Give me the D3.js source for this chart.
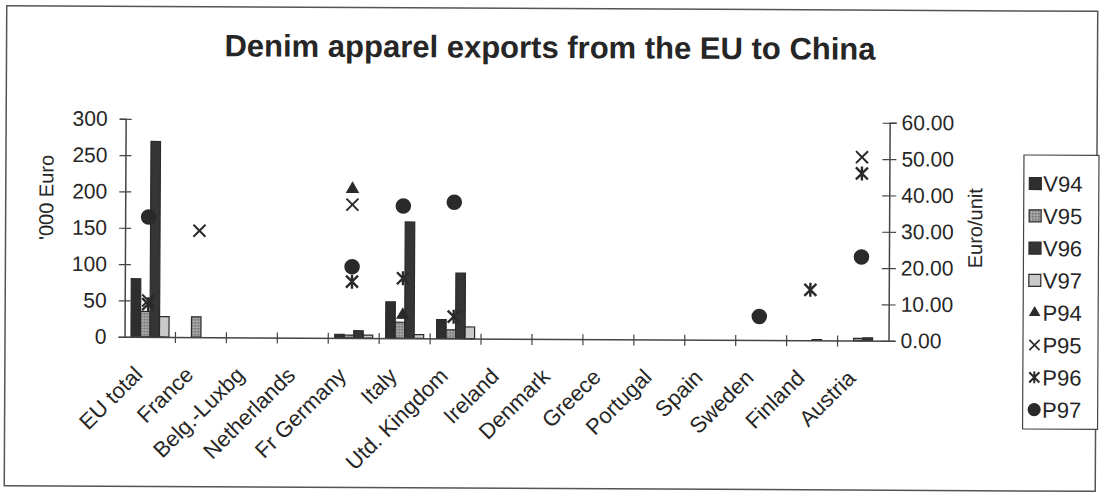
<!DOCTYPE html>
<html>
<head>
<meta charset="utf-8">
<script src="https://cdn.jsdelivr.net/npm/d3@7"></script>
<style>
  body { margin: 0; background: #fff; }
  svg { display: block; }
  text { font-family: "Liberation Sans", Arial, sans-serif; fill: #262626; }
</style>
</head>
<body>
<svg id="chart" width="1101" height="493"></svg>
<script>
// Countries along the category axis
const categories = ["EU total", "France", "Belg.-Luxbg", "Netherlands", "Fr Germany", "Italy",
  "Utd. Kingdom", "Ireland", "Denmark", "Greece", "Portugal", "Spain", "Sweden", "Finland", "Austria"];

// Export values, '000 Euro (left axis, bars)
const V94 = [80, 0, 0, 0, 5, 50, 26, 0, 0, 0, 0, 0, 0, 0, 0];
const V95 = [35, 28, 0, 0, 4, 22, 12, 0, 0, 0, 0, 0, 0, 0, 3];
const V96 = [269, 0, 0, 0, 10, 160, 90, 0, 0, 0, 0, 0, 0, 1, 4];
const V97 = [28, 0, 0, 0, 4, 5, 16, 0, 0, 0, 0, 0, 0, 0, 0];

// Unit prices, Euro/unit (right axis, markers); null = no value
const P94 = [null, null, null, null, 41, 6.4, null, null, null, null, null, null, null, null, null];
const P95 = [10, 29.3, null, null, 36.7, null, null, null, null, null, null, null, null, null, 50.5];
const P96 = [9, null, null, null, 15.5, 16.5, 6, null, null, null, null, null, null, 13.9, 46];
const P97 = [33, null, null, null, 19.6, 36.4, 37.5, null, null, null, null, null, 6.5, null, 23];

const leftTicks = [0, 50, 100, 150, 200, 250, 300];
const rightTicks = [0, 10, 20, 30, 40, 50, 60];
const leftTickLabels = leftTicks.map(String);
const rightTickLabels = rightTicks.map(d => d.toFixed(2));

const barSeries = [
  { name: "V94", values: V94, fill: "#2e2e2e" },
  { name: "V95", values: V95, fill: "url(#hatchV95)" },
  { name: "V96", values: V96, fill: "#353535" },
  { name: "V97", values: V97, fill: "#c9c9c9" }
];
const markerSeries = [
  { name: "P94", values: P94, shape: "triangle" },
  { name: "P95", values: P95, shape: "cross" },
  { name: "P96", values: P96, shape: "star" },
  { name: "P97", values: P97, shape: "circle" }
];

const ink = "#2a2a2a";
const svg = d3.select("#chart");

// fine textured grey used for the V95 bars
const defs = svg.append("defs");
const pat = defs.append("pattern").attr("id", "hatchV95")
  .attr("patternUnits", "userSpaceOnUse").attr("width", 3).attr("height", 3);
pat.append("rect").attr("width", 3).attr("height", 3).attr("fill", "#9a9a9a");
pat.append("rect").attr("width", 1.5).attr("height", 1.5).attr("fill", "#6f6f6f");
pat.append("rect").attr("x", 1.5).attr("y", 1.5).attr("width", 1.5).attr("height", 1.5).attr("fill", "#b4b4b4");

// the whole sheet sits at a slight tilt
const root = svg.append("g").attr("transform", "rotate(0.3,550,246)");

root.append("rect")
  .attr("x", 5.5).attr("y", 8.5).attr("width", 1091).attr("height", 480)
  .attr("fill", "none").attr("stroke", "#555").attr("stroke-width", 1.5);

root.append("text")
  .attr("x", 549).attr("y", 58)
  .attr("text-anchor", "middle")
  .attr("font-size", 31).attr("font-weight", "bold")
  .text("Denim apparel exports from the EU to China");

const plot = { left: 125, right: 889, top: 121, bottom: 339 };

const x = d3.scaleBand().domain(categories).range([plot.left, plot.right]).padding(0);
const xs = d3.scaleBand().domain(barSeries.map(s => s.name))
  .range([0, x.bandwidth()]).paddingInner(0).paddingOuter(0.68);
const yL = d3.scaleLinear().domain([0, 300]).range([plot.bottom, plot.top]);
const yR = d3.scaleLinear().domain([0, 60]).range([plot.bottom, plot.top]);

// bars
const barG = root.append("g");
barSeries.forEach(s => {
  barG.selectAll(null)
    .data(categories.map((c, i) => ({ c, v: s.values[i] })).filter(d => d.v > 0))
    .join("rect")
    .attr("x", d => x(d.c) + xs(s.name))
    .attr("y", d => yL(d.v))
    .attr("width", xs.bandwidth())
    .attr("height", d => yL(0) - yL(d.v))
    .attr("fill", s.fill)
    .attr("stroke", ink).attr("stroke-width", 1.2);
});

// axes
const axisStyle = g => {
  g.select(".domain").attr("stroke", "#444").attr("stroke-width", 1.5);
  g.selectAll(".tick line").attr("stroke", "#444").attr("stroke-width", 1.2);
  g.selectAll("text").attr("font-size", 21).attr("fill", "#262626")
    .attr("font-family", "'Liberation Sans', Arial, sans-serif");
};

const gL = root.append("g").attr("transform", `translate(${plot.left},0)`)
  .call(d3.axisLeft(yL).tickValues(leftTicks).tickFormat((d, i) => leftTickLabels[i])
    .tickSizeOuter(0).tickSize(6).tickPadding(12))
  .call(axisStyle);
gL.selectAll(".tick line").attr("x1", 6).attr("x2", -6);

const gR = root.append("g").attr("transform", `translate(${plot.right},0)`)
  .call(d3.axisRight(yR).tickValues(rightTicks).tickFormat((d, i) => rightTickLabels[i])
    .tickSizeOuter(0).tickSize(7).tickPadding(5))
  .call(axisStyle);
gR.selectAll(".tick line").attr("x1", -7).attr("x2", 7);

const gX = root.append("g").attr("transform", `translate(0,${plot.bottom})`)
  .call(d3.axisBottom(x).tickSize(0).tickSizeOuter(0).tickPadding(0))
  .call(axisStyle);
gX.selectAll(".tick text")
  .attr("text-anchor", "end")
  .attr("dy", 0)
  .attr("font-size", 22)
  .attr("transform", "translate(-6,39) rotate(-45)");

// category separators crossing the axis
root.append("g").selectAll("line")
  .data(categories.slice(1))
  .join("line")
  .attr("x1", d => x(d)).attr("x2", d => x(d))
  .attr("y1", plot.bottom - 5).attr("y2", plot.bottom + 6)
  .attr("stroke", "#444").attr("stroke-width", 1.2);

// axis titles
root.append("text")
  .attr("transform", "translate(53,200) rotate(-90)")
  .attr("text-anchor", "middle").attr("font-size", 20)
  .text("'000 Euro");
root.append("text")
  .attr("transform", "translate(982,226) rotate(-90)")
  .attr("text-anchor", "middle").attr("font-size", 20)
  .text("Euro/unit");

// marker shapes
function drawMarker(sel, shape) {
  if (shape === "triangle") {
    sel.append("path").attr("d", d3.symbol(d3.symbolTriangle, 80)())
      .attr("fill", ink);
  } else if (shape === "circle") {
    sel.append("path").attr("d", d3.symbol(d3.symbolCircle, 190)())
      .attr("fill", ink);
  } else if (shape === "cross") {
    sel.append("path").attr("d", "M-6,-6L6,6M-6,6L6,-6")
      .attr("stroke", ink).attr("stroke-width", 2).attr("fill", "none");
  } else if (shape === "star") {
    sel.append("path").attr("d", "M-6,-6L6,6M-6,6L6,-6M0,-7L0,7")
      .attr("stroke", ink).attr("stroke-width", 2.4).attr("fill", "none");
  }
}

const markG = root.append("g");
markerSeries.forEach(s => {
  markG.selectAll(null)
    .data(categories.map((c, i) => ({ c, v: s.values[i] })).filter(d => d.v !== null))
    .join("g")
    .attr("transform", d => `translate(${x(d.c) + x.bandwidth() / 2 - 2},${yR(d.v)})`)
    .each(function () { drawMarker(d3.select(this), s.shape); });
});

// legend
const legend = root.append("g").attr("transform", "translate(1023,152)");
legend.append("rect").attr("x", 0.5).attr("y", 0.5).attr("width", 75).attr("height", 274)
  .attr("fill", "#fff").attr("stroke", "#444").attr("stroke-width", 1.2);
const items = barSeries.map(s => ({ name: s.name, fill: s.fill, kind: "bar" }))
  .concat(markerSeries.map(s => ({ name: s.name, shape: s.shape, kind: "mark" })));
const li = legend.selectAll("g.item").data(items).join("g")
  .attr("class", "item")
  .attr("transform", (d, i) => `translate(0,${29 + i * 32.3})`);
li.each(function (d) {
  const g = d3.select(this);
  if (d.kind === "bar") {
    g.append("rect").attr("x", 6).attr("y", -6).attr("width", 12).attr("height", 12)
      .attr("fill", d.fill).attr("stroke", ink).attr("stroke-width", 1.2);
  } else {
    const m = g.append("g").attr("transform", "translate(12,0) scale(0.85)");
    drawMarker(m, d.shape);
  }
  g.append("text").attr("x", 20).attr("y", 8).attr("font-size", 22).text(d.name);
});
</script>
</body>
</html>
